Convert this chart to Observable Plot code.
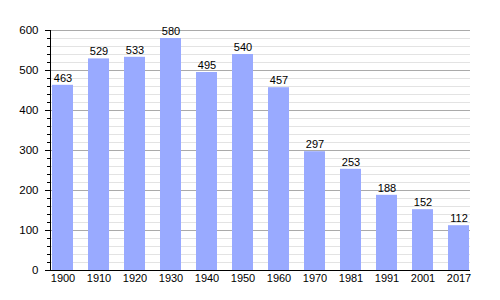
<!DOCTYPE html>
<html>
<head>
<meta charset="utf-8">
<script src="https://cdn.jsdelivr.net/npm/d3@7"></script>
<script src="https://cdn.jsdelivr.net/npm/@observablehq/plot@0.6"></script>
<style>
  body { margin: 0; background: #fff; }
  svg { font-family: "Liberation Sans", Arial, sans-serif; }
</style>
</head>
<body>
<div id="chart"></div>
<script>
const years = ["1900","1910","1920","1930","1940","1950","1960","1970","1981","1991","2001","2017"];
const population = [463, 529, 533, 580, 495, 540, 457, 297, 253, 188, 152, 112];
const majorTicks = [0, 100, 200, 300, 400, 500, 600];
const minorTicks = d3.range(0, 601, 20).filter(v => v % 100 !== 0);

const data = years.map((y, i) => ({year: y, value: population[i]}));

const chart = Plot.plot({
  width: 500,
  height: 300,
  marginLeft: 50,
  marginRight: 30,
  marginTop: 30,
  marginBottom: 30,
  style: {fontFamily: '"Liberation Sans", Arial, sans-serif', fontSize: "11px", background: "#fff"},
  x: {type: "band", domain: years, paddingInner: 0.42, paddingOuter: 0, label: null},
  y: {domain: [0, 600], label: null},
  marks: [
    Plot.ruleY(minorTicks, {stroke: "#e3e3e3", strokeWidth: 1}),
    Plot.ruleY(majorTicks, {stroke: "#aaaaaa", strokeWidth: 1}),
    Plot.barY(data, {x: "year", y: "value", fill: "#99aaff"}),
    Plot.text(data, {x: "year", y: "value", text: d => String(d.value), dy: -7, fill: "#000", fontSize: 11}),
    Plot.axisY(minorTicks, {tickSize: 3, text: null, stroke: "#000"}),
    Plot.axisY(majorTicks, {tickSize: 5, tickPadding: 7, fill: "#000", stroke: "#000", fontSize: 11.5}),
    Plot.axisX({tickSize: 0, tickPadding: 4, fill: "#000", fontSize: 11}),
    Plot.frame({anchor: "left", stroke: "#000"}),
    Plot.ruleY([0], {stroke: "#000"})
  ]
});
document.getElementById("chart").appendChild(chart);
</script>
</body>
</html>
